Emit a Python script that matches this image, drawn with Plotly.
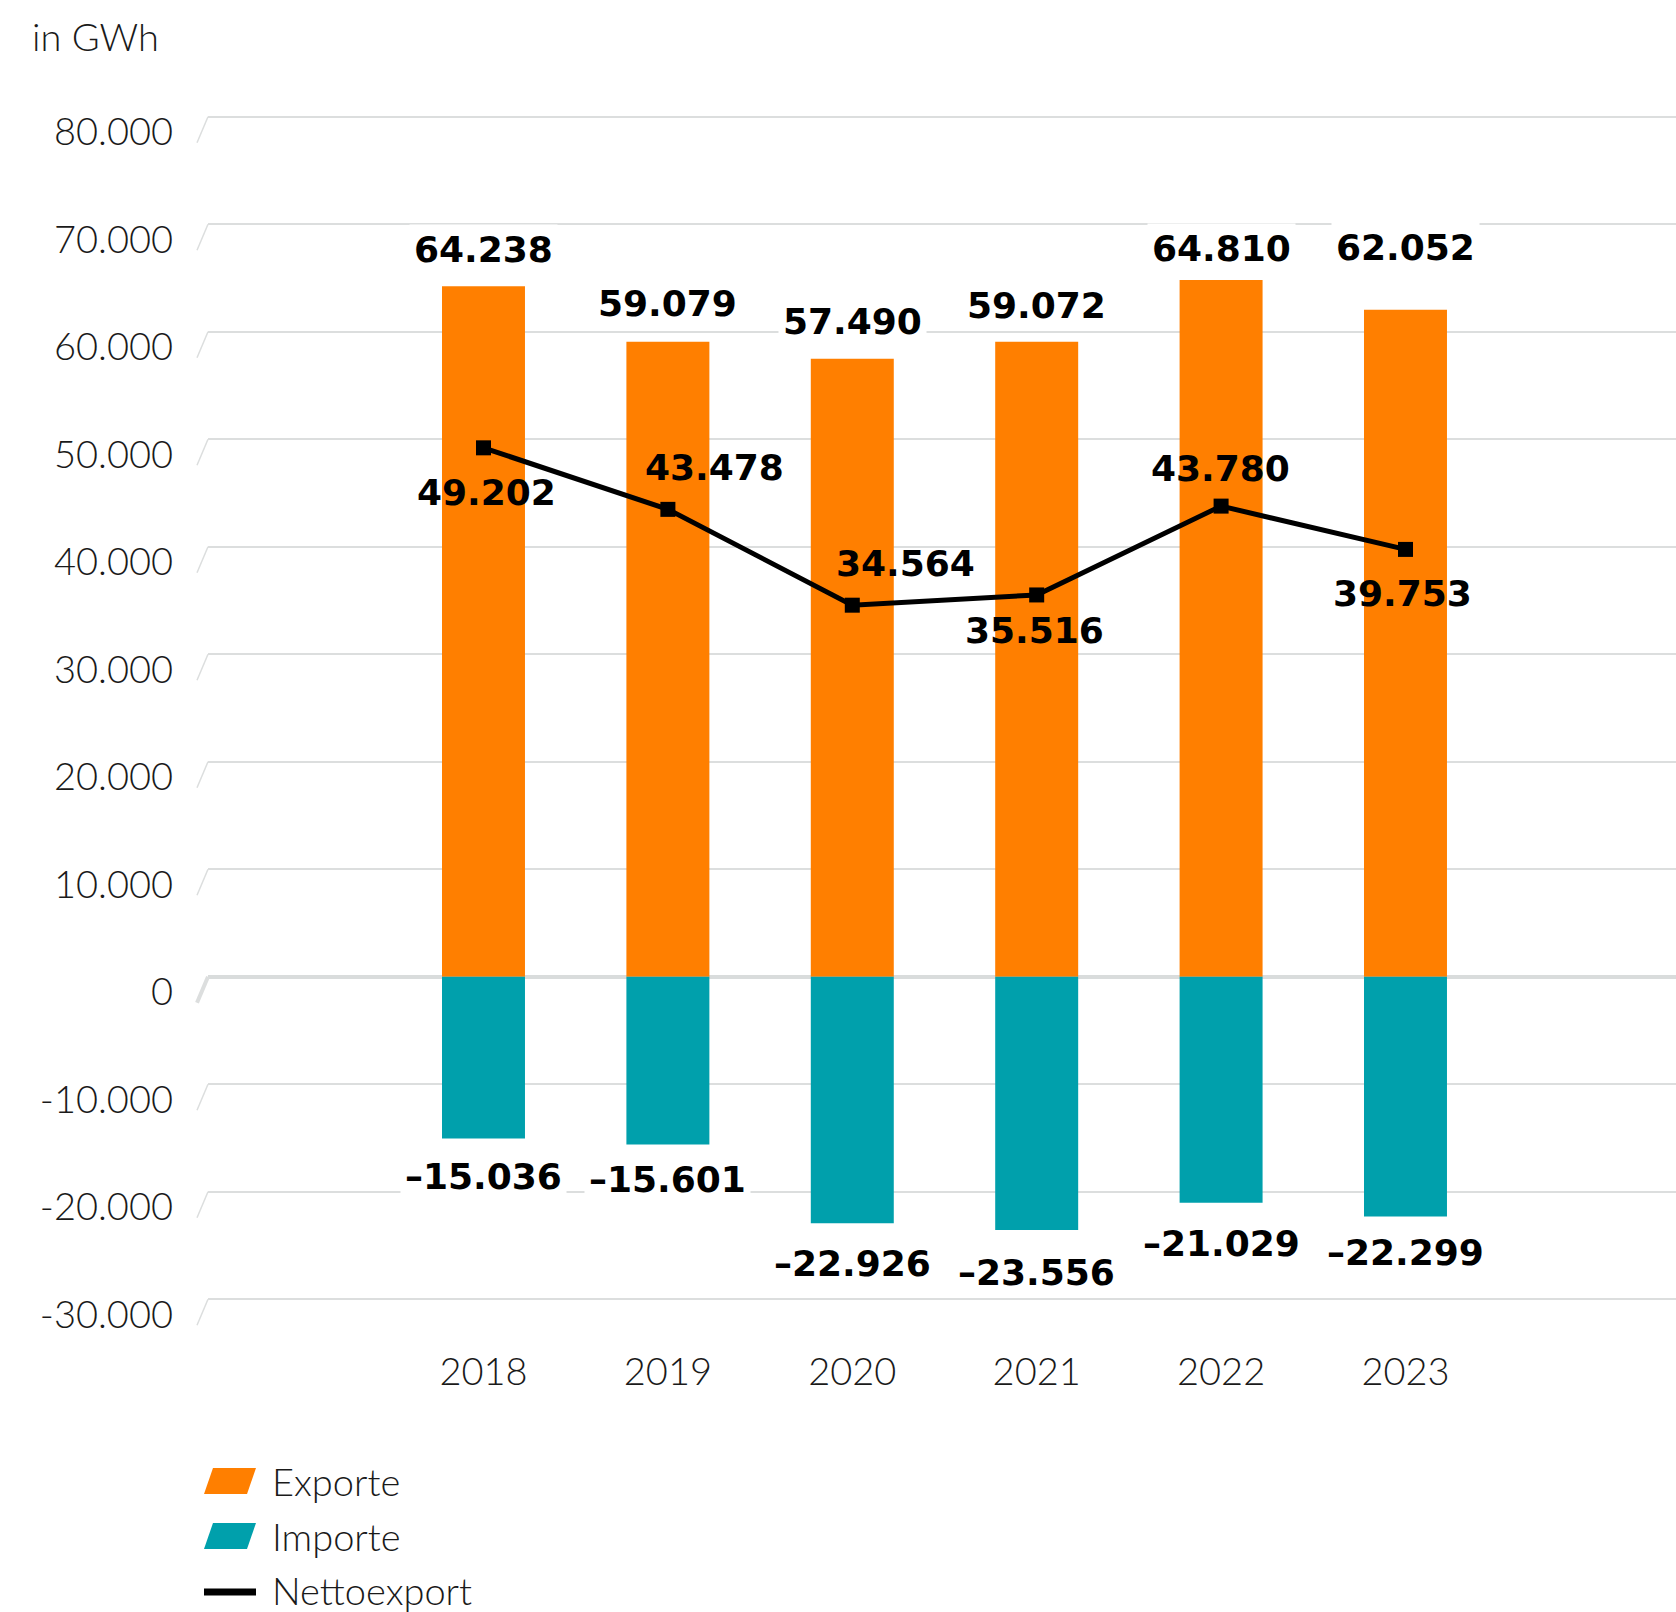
import plotly.graph_objects as go

# --- data -------------------------------------------------------------
years = ["2018", "2019", "2020", "2021", "2022", "2023"]
exporte = [64238, 59079, 57490, 59072, 64810, 62052]
importe = [-15036, -15601, -22926, -23556, -21029, -22299]
nettoexport = [49202, 43478, 34564, 35516, 43780, 39753]

y_tickvals = [-30000, -20000, -10000, 0, 10000, 20000, 30000, 40000, 50000, 60000, 70000, 80000]
y_ticktext = ["-30.000", "-20.000", "-10.000", "0", "10.000", "20.000",
              "30.000", "40.000", "50.000", "60.000", "70.000", "80.000"]

# --- styling ----------------------------------------------------------
ORANGE = "#FF7F00"
TEAL = "#00A0AC"
GRID = "#DCDEDE"
TEXT = "#1A1A1A"
LIGHT_FONT = dict(family="Lato, 'Open Sans', sans-serif", size=38, color=TEXT, weight=300)
BOLD_FONT = dict(family="'DejaVu Sans', sans-serif", size=36, color="#000000", weight=700)

W, H = 1676, 1612
PLOT_L, PLOT_T, PLOT_W, PLOT_H = 208, 106, 1468, 1204
Y_RANGE = [-31000, 81000]
X_RANGE = [-1.494, 6.467]


def px(x):
    return (x - PLOT_L) / PLOT_W


def py(y):
    return (PLOT_T + PLOT_H - y) / PLOT_H


def y_paper(v):
    return (v - Y_RANGE[0]) / (Y_RANGE[1] - Y_RANGE[0])


def de_num(v):
    s = f"{abs(v):,}".replace(",", ".")
    return ("\u2013" + s) if v < 0 else s


# label offsets (pixels) relative to the bar ends / line markers
export_nudge = [37, 38, 37, 36, 32, 62]
import_nudge = [-38, -35, -40, -43, -41, -36]
net_nudge = [(3, -45), (47, 42), (53, 42), (-2, -36), (-1, 38), (-3, -44)]

fig = go.Figure()
fig.add_trace(go.Bar(x=years, y=exporte, name="Exporte", marker=dict(color=ORANGE, line=dict(width=0)),
                     width=0.45, showlegend=False, hoverinfo="skip"))
fig.add_trace(go.Bar(x=years, y=importe, name="Importe", marker=dict(color=TEAL, line=dict(width=0)),
                     width=0.45, showlegend=False, hoverinfo="skip"))
fig.add_trace(go.Scatter(x=years, y=nettoexport, name="Nettoexport", mode="lines+markers",
                         line=dict(color="#000000", width=5),
                         marker=dict(symbol="square", size=15, color="#000000"),
                         showlegend=False, hoverinfo="skip"))

annotations = []
# category positions on the x axis are the indices of the years
for i, (v, dy) in enumerate(zip(exporte, export_nudge)):
    annotations.append(dict(x=i, y=v, text=de_num(v), showarrow=False, yshift=dy,
                            font=BOLD_FONT, bgcolor="white", borderpad=4,
                            xanchor="center", yanchor="middle"))
for i, (v, dy) in enumerate(zip(importe, import_nudge)):
    annotations.append(dict(x=i, y=v, text=de_num(v), showarrow=False, yshift=dy,
                            font=BOLD_FONT, bgcolor="white", borderpad=4,
                            xanchor="center", yanchor="middle"))
for i, (v, (dx, dy)) in enumerate(zip(nettoexport, net_nudge)):
    annotations.append(dict(x=i, y=v, text=de_num(v), showarrow=False, xshift=dx, yshift=dy,
                            font=BOLD_FONT, xanchor="center", yanchor="middle"))

# unit caption
annotations.append(dict(xref="paper", yref="paper", x=px(30), y=py(36), text="in GWh",
                        showarrow=False, xanchor="left", yanchor="middle", font=LIGHT_FONT))

shapes = []
# slanted tick marks at the start of each gridline
for v in y_tickvals:
    shapes.append(dict(type="line", xref="paper", yref="paper",
                       xsizemode="pixel", xanchor=0, x0=-11, x1=0,
                       ysizemode="pixel", yanchor=y_paper(v), y0=-26, y1=0,
                       line=dict(color=GRID, width=4 if v == 0 else 1.5)))

# legend
legend_items = [("Exporte", ORANGE, 1481), ("Importe", TEAL, 1536)]
for label, color, cy in legend_items:
    path = (f"M {px(204)},{py(cy + 13)} L {px(247)},{py(cy + 13)} "
            f"L {px(256)},{py(cy - 13)} L {px(213)},{py(cy - 13)} Z")
    shapes.append(dict(type="path", xref="paper", yref="paper", path=path,
                       fillcolor=color, line=dict(width=0)))
    annotations.append(dict(xref="paper", yref="paper", x=px(270), y=py(cy), text=label,
                            showarrow=False, xanchor="left", yanchor="middle", font=LIGHT_FONT))
shapes.append(dict(type="line", xref="paper", yref="paper", x0=px(204), x1=px(256),
                   y0=py(1592), y1=py(1592), line=dict(color="#000000", width=7)))
annotations.append(dict(xref="paper", yref="paper", x=px(270), y=py(1590), text="Nettoexport",
                        showarrow=False, xanchor="left", yanchor="middle", font=LIGHT_FONT))

fig.update_layout(
    width=W, height=H, autosize=False,
    margin=dict(l=PLOT_L, r=W - PLOT_L - PLOT_W, t=PLOT_T, b=H - PLOT_T - PLOT_H, pad=0),
    paper_bgcolor="white", plot_bgcolor="white",
    barmode="relative",
    showlegend=False,
    annotations=annotations,
    shapes=shapes,
    xaxis=dict(type="category", range=X_RANGE, showgrid=False, zeroline=False, showline=False,
               ticks="", tickfont=LIGHT_FONT, ticklabelstandoff=36),
    yaxis=dict(range=Y_RANGE, tickvals=y_tickvals, ticktext=y_ticktext, showgrid=True,
               gridcolor=GRID, gridwidth=1.5, zeroline=True, zerolinecolor="#D9DCDC",
               zerolinewidth=4, showline=False, ticks="", tickfont=LIGHT_FONT,
               ticklabelstandoff=34, ticklabelshift=15, layer="below traces"),
)

fig.write_html("out.html")
